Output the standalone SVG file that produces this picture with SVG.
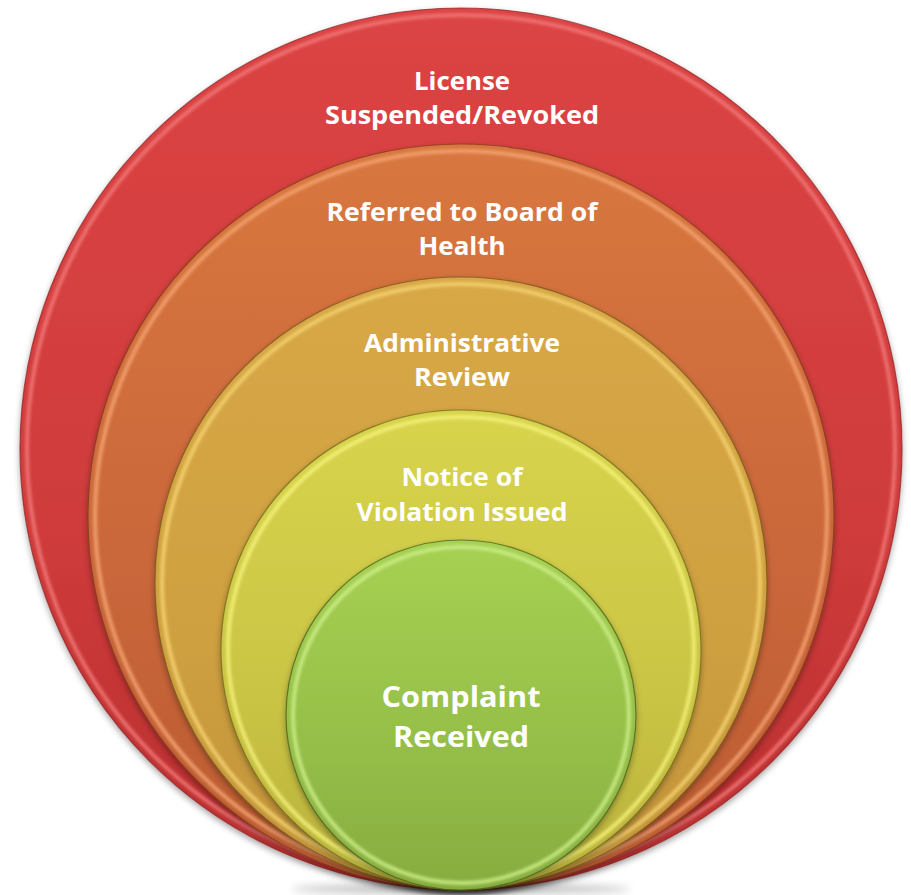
<svg xmlns="http://www.w3.org/2000/svg" width="911" height="895" viewBox="0 0 911 895">
<defs>
<linearGradient id="gRed" x1="0" y1="0" x2="0" y2="1"><stop offset="0" stop-color="#DC4444"/><stop offset="0.6" stop-color="#CF3B3B"/><stop offset="1" stop-color="#B82E2E"/></linearGradient>
<linearGradient id="gOrange" x1="0" y1="0" x2="0" y2="1"><stop offset="0" stop-color="#D8773F"/><stop offset="0.6" stop-color="#C9663A"/><stop offset="1" stop-color="#BA5A30"/></linearGradient>
<linearGradient id="gAdmin" x1="0" y1="0" x2="0" y2="1"><stop offset="0" stop-color="#D8A846"/><stop offset="0.6" stop-color="#CFA040"/><stop offset="1" stop-color="#C09238"/></linearGradient>
<linearGradient id="gNotice" x1="0" y1="0" x2="0" y2="1"><stop offset="0" stop-color="#D8D44C"/><stop offset="0.6" stop-color="#CAC444"/><stop offset="1" stop-color="#B8B03C"/></linearGradient>
<linearGradient id="gGreen" x1="0" y1="0" x2="0" y2="1"><stop offset="0" stop-color="#A6D152"/><stop offset="0.6" stop-color="#95BE48"/><stop offset="1" stop-color="#86AC40"/></linearGradient>
<filter id="shadow" x="-10%" y="-10%" width="120%" height="125%"><feDropShadow dx="0" dy="3" stdDeviation="3" flood-color="#000" flood-opacity="0.35"/></filter>
<filter id="soft" x="-10%" y="-10%" width="120%" height="120%"><feGaussianBlur stdDeviation="1.6"/></filter>
<filter id="ground" x="-20%" y="-200%" width="140%" height="500%"><feGaussianBlur stdDeviation="4"/></filter>
<style>
.edge{stroke-width:1.2;stroke-opacity:0.7}
.rim{fill:none;stroke-width:4;stroke-opacity:0.85;filter:url(#soft)}
.lbl{font-family:"Open Sans","Liberation Sans",sans-serif;font-weight:700;fill:#FFFFFF;text-anchor:middle}
.s{font-size:25px}
.b{font-size:29px}
</style>
</defs>
<ellipse cx="461" cy="889" rx="170" ry="4" fill="#000" opacity="0.3" filter="url(#ground)"/>
<g id="license">
<circle cx="461" cy="449" r="441" fill="url(#gRed)" stroke="#8A2020" class="edge" filter="url(#shadow)"/>
<circle cx="461" cy="449" r="434" stroke="#F27878" class="rim"/>
<text class="lbl s" x="462" y="90" textLength="96" lengthAdjust="spacingAndGlyphs">License</text>
<text class="lbl s" x="462" y="124" textLength="274" lengthAdjust="spacingAndGlyphs">Suspended/Revoked</text>
</g>
<g id="board">
<circle cx="461" cy="517" r="373" fill="url(#gOrange)" stroke="#7A3A18" class="edge" filter="url(#shadow)"/>
<circle cx="461" cy="517" r="366" stroke="#F5A472" class="rim"/>
<text class="lbl s" x="462" y="221" textLength="271" lengthAdjust="spacingAndGlyphs">Referred to Board of</text>
<text class="lbl s" x="462" y="255" textLength="87" lengthAdjust="spacingAndGlyphs">Health</text>
</g>
<g id="admin">
<circle cx="461" cy="583" r="306" fill="url(#gAdmin)" stroke="#6E5418" class="edge" filter="url(#shadow)"/>
<circle cx="461" cy="583" r="299" stroke="#F6D472" class="rim"/>
<text class="lbl s" x="462" y="352" textLength="196" lengthAdjust="spacingAndGlyphs">Administrative</text>
<text class="lbl s" x="462" y="386" textLength="96" lengthAdjust="spacingAndGlyphs">Review</text>
</g>
<g id="notice">
<circle cx="461" cy="650" r="240" fill="url(#gNotice)" stroke="#6A6418" class="edge" filter="url(#shadow)"/>
<circle cx="461" cy="650" r="233" stroke="#F4F27A" class="rim"/>
<text class="lbl s" x="462" y="486" textLength="121" lengthAdjust="spacingAndGlyphs">Notice of</text>
<text class="lbl s" x="462" y="521" textLength="211" lengthAdjust="spacingAndGlyphs">Violation Issued</text>
</g>
<g id="complaint">
<circle cx="461" cy="715" r="175" fill="url(#gGreen)" stroke="#3E5A1A" class="edge" filter="url(#shadow)"/>
<circle cx="461" cy="715" r="168" stroke="#CDEE88" class="rim"/>
<text class="lbl b" x="461" y="707" textLength="159" lengthAdjust="spacingAndGlyphs">Complaint</text>
<text class="lbl b" x="461" y="747" textLength="136" lengthAdjust="spacingAndGlyphs">Received</text>
</g>
<g id="connectors"/>
</svg>
